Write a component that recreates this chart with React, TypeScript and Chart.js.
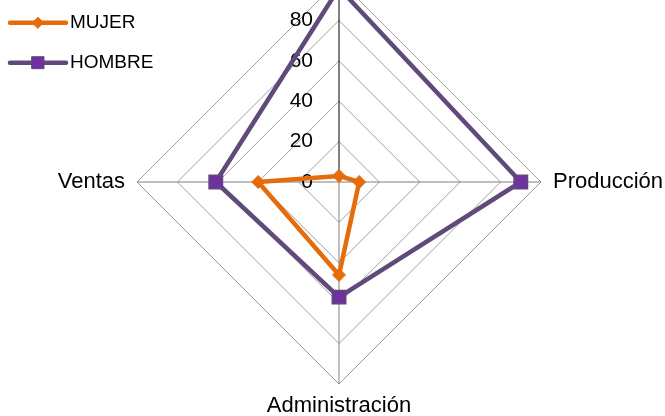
import { useEffect, useRef } from 'react';
import { Chart, registerables } from 'chart.js';

Chart.register(...registerables);

const categories = ['Dirección', 'Producción', 'Administración', 'Ventas'];
const mujerValues = [3, 10, 46, 40];
const hombreValues = [96, 90, 57, 61];
const tickValues = [0, 20, 40, 60, 80];
const seriesNames = ['MUJER', 'HOMBRE'];

const FONT = '"Liberation Sans", Arial, sans-serif';
const ORANGE = '#E46C0A';
const PURPLE_LINE = '#604A7B';
const PURPLE_FILL = '#7030A0';

// The canvas starts above the visible page so the top spoke runs off the edge.
const SHIFT = 20;
const CANVAS_W = 665;
const CANVAS_H = 444;

const overlayPlugin = {
  id: 'radarOverlay',
  beforeDatasetsDraw(chart: any) {
    const r = chart.scales.r;
    const ctx = chart.ctx as CanvasRenderingContext2D;
    ctx.save();
    ctx.fillStyle = '#000';

    // value labels beside the vertical spoke
    ctx.font = `21px ${FONT}`;
    ctx.textAlign = 'right';
    ctx.textBaseline = 'middle';
    tickValues.forEach((v) => {
      const y = r.yCenter - r.getDistanceFromCenterForValue(v);
      ctx.fillText(String(v), r.xCenter - 26, y);
    });

    // category labels at the spoke ends
    ctx.font = `22px ${FONT}`;
    categories.forEach((label, i) => {
      const probe = r.getPointPosition(i, r.drawingArea);
      const dx = probe.x - r.xCenter;
      const horizontal = Math.abs(dx) > 1;
      const p = r.getPointPosition(i, r.drawingArea + (horizontal ? 12 : 22));
      ctx.textAlign = horizontal ? (dx > 0 ? 'left' : 'right') : 'center';
      ctx.textBaseline = 'middle';
      ctx.fillText(label, p.x, p.y);
    });
    ctx.restore();
  },
  afterDraw(chart: any) {
    const ctx = chart.ctx as CanvasRenderingContext2D;
    ctx.save();
    chart.data.datasets.forEach((ds: any, i: number) => {
      const y = 22.7 + 40 * i + SHIFT;
      ctx.strokeStyle = ds.borderColor;
      ctx.lineWidth = 4.5;
      ctx.lineCap = 'round';
      ctx.beginPath();
      ctx.moveTo(10, y);
      ctx.lineTo(66, y);
      ctx.stroke();

      const cx = 38;
      ctx.fillStyle = ds.pointBackgroundColor;
      ctx.strokeStyle = ds.pointBorderColor;
      ctx.lineWidth = 1;
      ctx.beginPath();
      if (ds.pointStyle === 'rectRot') {
        const s = 5.5;
        ctx.moveTo(cx - s, y);
        ctx.lineTo(cx, y - s);
        ctx.lineTo(cx + s, y);
        ctx.lineTo(cx, y + s);
        ctx.closePath();
      } else {
        ctx.rect(cx - 6, y - 6, 12, 12);
      }
      ctx.fill();
      ctx.stroke();

      ctx.fillStyle = '#000';
      ctx.font = `19px ${FONT}`;
      ctx.textAlign = 'left';
      ctx.textBaseline = 'middle';
      ctx.fillText(ds.label, 70, y + 0.5);
    });
    ctx.restore();
  },
};

export default function App() {
  const canvasRef = useRef<HTMLCanvasElement | null>(null);

  useEffect(() => {
    if (!canvasRef.current) return;
    const chart = new Chart(canvasRef.current, {
      type: 'radar',
      data: {
        labels: categories,
        datasets: [
          {
            label: seriesNames[0],
            data: mujerValues,
            borderColor: ORANGE,
            backgroundColor: 'transparent',
            borderWidth: 4.5,
            borderJoinStyle: 'round',
            pointStyle: 'rectRot',
            pointRadius: 6.5,
            pointBackgroundColor: ORANGE,
            pointBorderColor: ORANGE,
            pointBorderWidth: 1,
            fill: false,
          },
          {
            label: seriesNames[1],
            data: hombreValues,
            borderColor: PURPLE_LINE,
            backgroundColor: 'transparent',
            borderWidth: 4.5,
            borderJoinStyle: 'round',
            pointStyle: 'rect',
            pointRadius: 9.5,
            pointBackgroundColor: PURPLE_FILL,
            pointBorderColor: PURPLE_LINE,
            pointBorderWidth: 1.5,
            fill: false,
          },
        ],
      },
      options: {
        responsive: false,
        animation: false,
        devicePixelRatio: 1,
        layout: { padding: { left: 137, right: 124, top: 0, bottom: 40 } },
        plugins: {
          legend: { display: false },
          tooltip: { enabled: false },
        },
        elements: { line: { tension: 0 } },
        scales: {
          r: {
            min: 0,
            max: 100,
            beginAtZero: true,
            ticks: { display: false, stepSize: 20 },
            pointLabels: { display: false },
            grid: { color: '#A0A0A0', lineWidth: 1 },
            angleLines: {
              color: (c: any) => (c.index === 0 ? '#000000' : '#7F7F7F'),
              lineWidth: 1,
            },
          },
        },
      },
      plugins: [overlayPlugin],
    } as any);
    return () => chart.destroy();
  }, []);

  return (
    <div
      style={{
        position: 'fixed',
        left: 0,
        top: 0,
        width: 665,
        height: 416,
        overflow: 'hidden',
        background: '#fff',
      }}
    >
      <canvas
        ref={canvasRef}
        width={CANVAS_W}
        height={CANVAS_H}
        style={{ position: 'absolute', left: 0, top: -SHIFT, width: CANVAS_W, height: CANVAS_H }}
      />
    </div>
  );
}
